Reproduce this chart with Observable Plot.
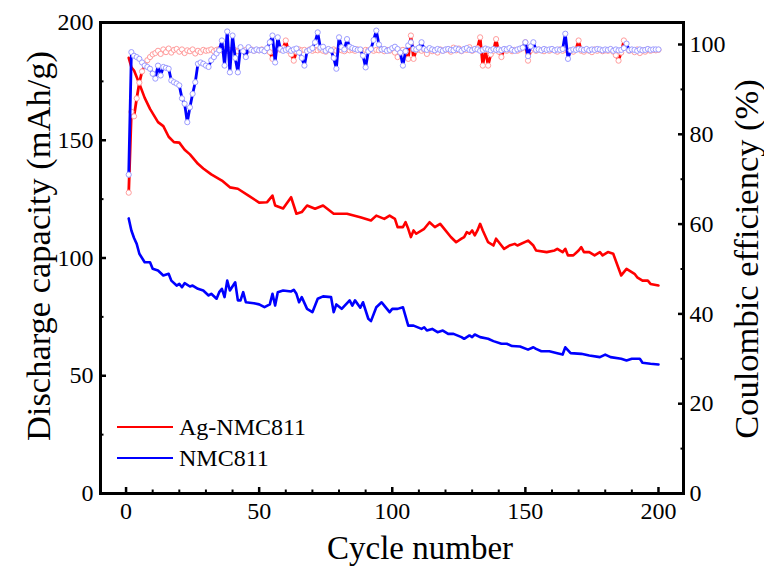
<!DOCTYPE html>
<html><head><meta charset="utf-8">
<script src="https://cdn.jsdelivr.net/npm/d3@7"></script>
<script src="https://cdn.jsdelivr.net/npm/@observablehq/plot@0.6"></script>
<style>
body{margin:0;background:#fff;}
#wrap{position:relative;width:764px;height:567px;font-family:"Liberation Serif","Times New Roman",serif;color:#000;}
.leg{position:absolute;left:117px;height:30px;display:flex;align-items:center;font-size:24px;white-space:nowrap;font-family:"Liberation Serif","Times New Roman",serif;}
.leg .sw{display:inline-block;width:56px;height:0;border-top:2.5px solid;margin-right:6px;}
</style></head><body><div id="wrap"></div>
<script>
// ---- data ----
const seriesNames = ["Ag-NMC811", "NMC811"];
const seriesColors = ["#ff0000", "#0000ff"];
const markerColors = ["#ff9c9c", "#9c9cff"];

// Discharge capacity (mAh/g) read at cycle numbers
const agCapCycles = [1,2,3,5,7,9,12,14,16,18,20,22,24,27,29,32,36,39,42,46,50,53,55,56,59,62,64,66,68,71,74,78,83,88,92,94,97,99,101,102,104,105,106,107,108,109,112,113,114,116,118,119,122,124,126,127,128,129,130,131,132,133,134,136,138,139,141,142,144,146,147,151,153,154,158,161,162,164,165,166,168,170,171,172,174,176,178,179,181,183,186,188,191,192,194,196,197,200];
const agCap = [185,181,179.6,174,168,163.3,157.7,156,151.5,149.2,149,146,144,140,138,135.5,132.9,130,129.4,126.5,123.5,123.7,126.5,122.3,121,125.8,118.8,119.5,122.3,120.9,122.3,118.8,118.8,117.3,115.9,118,116.6,118,116.6,113.1,113.1,115.2,112.4,108.9,111.7,110.3,112.4,113.8,115.2,113.1,114.5,113.1,108.9,106.7,108.2,108.9,111,110.3,111.7,109.6,111.7,114.5,111.7,106.7,105.3,108.2,105.3,103.9,105.3,106,105.3,107.4,105.3,103.2,102.5,103.2,103.9,102.5,103.9,101.1,101.1,103.2,104.6,102.5,102.5,101.1,102.5,101.1,102.5,101.8,92.6,95.4,93.3,91.8,90.4,90.4,89,88.3];

const nmcCapCycles = [1,2,3,4,5,7,9,10,12,14,16,17,19,20,21,22,24,25,27,29,31,32,34,35,36,37,38,39,41,42,43,44,45,48,50,52,54,55,56,57,59,62,63,64,65,66,68,70,72,74,77,78,79,81,84,85,86,88,89,91,92,94,96,97,99,100,102,104,106,108,111,112,113,115,117,119,121,123,126,127,129,130,131,133,136,138,141,143,145,148,151,153,154,156,159,162,164,165,167,171,174,178,180,182,186,188,190,193,194,197,200];
const nmcCap = [116.8,111.7,108.5,106,101.8,98.2,98.2,95.4,94.7,92.6,93.3,90.4,88.3,89,87.6,89.3,87.9,88.3,86.9,86.2,84.1,84.8,82.7,85.5,86.9,83.4,90.4,86.2,89.7,82,82,85.5,81.2,80.8,80.3,79.1,80.3,84.8,79.8,85.5,86.2,85.8,86.5,84.8,81.2,83.4,78.4,77,82.7,83.7,83.4,77,80.3,78.4,82,79.8,82,78.9,81.2,74.2,73.2,79.1,81.2,79.8,77,78.4,78.4,79.1,71.3,71.3,69.9,70.6,69.2,69.9,68.5,69.2,67.8,67.8,66.4,65.7,67.1,66.4,67.5,66.4,65.7,64.7,63.6,63.6,62.6,62.4,61.1,62.1,61.4,60.4,60.4,59.6,59,62.1,59.6,59.3,58.6,57.9,59,57.9,57.2,56.5,57.2,57.2,55.5,55.1,54.8];

// Coulombic efficiency (%) for cycles 1..200
const agCE = [
67,85,84,88,91.5,94,95.5,96.5,97.2,97.8,
98.1,98.6,97.9,98.9,98.3,99.1,98.2,98.8,99.0,98.4,
98.9,98.1,98.7,98.5,98.9,98.0,98.6,98.3,98.8,98.6,
98.7,98.9,98.5,98.8,99.0,98.7,98.9,98.6,98.8,98.9,
98.7,98.5,98.9,98.6,98.8,98.7,98.9,98.6,98.8,98.7,
98.9,98.6,98.8,98.3,96.8,98.5,99.0,98.8,99.2,100.9,
98.6,97.8,96.4,98.4,98.9,98.7,98.8,98.5,98.9,98.6,
98.8,98.7,98.9,98.6,98.4,98.8,98.7,98.9,98.6,98.8,
98.7,98.5,98.9,98.7,98.8,98.6,98.9,98.7,98.5,98.8,
98.7,98.9,98.6,98.8,98.7,98.9,98.5,98.8,98.6,98.9,
98.2,97.2,98.6,98.8,98.4,96.8,102.0,96.8,98.7,98.9,
98.6,98.8,97.9,98.9,98.5,98.7,98.2,98.9,98.6,98.8,
98.9,98.4,99.3,98.7,99.1,98.5,98.9,98.8,99.4,98.6,
98.9,99.2,101.6,95.3,98.8,95.3,97.8,98.6,101.2,98.4,
97.2,98.9,98.6,98.9,98.5,98.8,98.6,98.9,99.2,100.5,
96.4,98.7,99.1,98.6,98.9,98.7,98.5,98.8,98.6,98.9,
98.7,98.4,98.9,98.6,98.8,98.5,98.7,98.4,98.9,100.9,
98.6,98.4,98.8,98.6,98.3,98.9,98.6,98.8,98.5,98.7,
98.6,98.9,98.4,97.6,96.4,98.2,100.9,99.3,98.6,98.8,
98.3,98.9,98.1,98.7,98.4,98.9,98.6,98.8,98.7,98.8];

const nmcCE = [
71,98.3,97.5,97.2,96.8,96.0,95.3,95.0,94.6,93.5,
92.4,95.3,93.1,95.0,94.8,94.6,92.0,91.6,91.3,90.9,
88.0,86.8,82.7,86.0,89.0,91.6,95.7,96.0,95.7,95.3,
95.0,96.5,97.2,98.0,98.7,100.9,95.3,102.9,93.8,102.0,
97.0,93.8,99.4,98.5,97.2,99.4,98.8,98.6,98.9,98.7,
98.8,98.5,99.2,100.5,102.0,96.0,101.6,99.0,98.6,98.8,
99.0,98.6,98.9,99.1,98.2,97.0,95.3,98.5,98.8,99.2,
100.5,102.7,99.3,99.5,98.6,99.0,98.7,97.0,94.6,101.6,
99.4,98.9,101.2,99.5,99.2,99.0,98.8,98.9,97.5,94.9,
98.5,99.0,101.0,103.1,100.0,98.9,99.0,98.6,98.8,99.2,
99.5,99.0,98.2,95.3,98.5,99.8,100.5,99.0,98.9,99.3,
100.5,99.0,98.8,99.2,98.9,98.7,99.0,98.8,98.6,98.9,
99.0,98.8,98.7,99.1,98.9,98.6,99.0,99.2,98.8,98.7,
99.0,98.9,98.6,98.8,99.1,98.9,98.7,99.0,98.8,98.9,
98.7,99.0,98.9,99.2,98.8,98.6,98.9,99.1,99.3,100.5,
97.4,99.6,100.5,98.8,98.9,98.7,99.0,98.8,98.9,99.0,
98.7,98.9,98.8,99.0,102.4,96.8,98.7,98.9,98.8,99.0,
98.9,98.8,99.0,98.7,98.9,98.8,99.0,98.9,98.7,98.9,
98.8,99.0,98.6,98.9,98.7,98.8,99.2,100.2,98.7,98.9,
98.8,98.6,98.9,98.7,98.8,99.0,98.8,98.9,98.9,98.9];

// axis ticks
const xTicks = [0,50,100,150,200];
const xMinor = [10,20,30,40,60,70,80,90,110,120,130,140,160,170,180,190];
const yTicks = [0,50,100,150,200];
const yMinor = [25,75,125,175];
const ceTicks = [0,20,40,60,80,100];
const ceMinor = [10,30,50,70,90];
const capMax = 200, ceMax = 104.9;

// ---- build ----
const K = capMax / ceMax;
const agCapData = agCapCycles.map((c, i) => ({cycle: c, v: agCap[i]}));
const nmcCapData = nmcCapCycles.map((c, i) => ({cycle: c, v: nmcCap[i]}));
const agCEData = agCE.map((v, i) => ({cycle: i + 1, y: v * K}));
const nmcCEData = nmcCE.map((v, i) => ({cycle: i + 1, y: v * K}));

const font = "'Liberation Serif', 'Times New Roman', serif";
const chart = Plot.plot({
  width: 764, height: 567,
  marginLeft: 100, marginRight: 81, marginTop: 22, marginBottom: 74,
  style: {fontFamily: font, fontSize: "23px", color: "#000", background: "#fff", overflow: "visible"},
  x: {domain: [-9.6, 209.4]},
  y: {domain: [0, capMax]},
  marks: [
    Plot.line(agCapData, {x: "cycle", y: "v", stroke: seriesColors[0], strokeWidth: 2.6}),
    Plot.line(nmcCapData, {x: "cycle", y: "v", stroke: seriesColors[1], strokeWidth: 2.6}),
    Plot.line(agCEData, {x: "cycle", y: "y", stroke: seriesColors[0], strokeWidth: 2.8}),
    Plot.dot(agCEData, {x: "cycle", y: "y", r: 2.6, fill: "white", stroke: markerColors[0], strokeWidth: 1}),
    Plot.line(nmcCEData, {x: "cycle", y: "y", stroke: seriesColors[1], strokeWidth: 2.8}),
    Plot.dot(nmcCEData, {x: "cycle", y: "y", r: 2.6, fill: "white", stroke: markerColors[1], strokeWidth: 1}),
    Plot.frame({stroke: "#000", strokeWidth: 3}),
    // x axis
    Plot.axisX(xTicks, {anchor: "bottom", tickSize: 0, tickPadding: 8, fontSize: 24, fontFamily: font, label: null}),
    Plot.axisX(xTicks, {anchor: "bottom", tickSize: -6, strokeWidth: 2.5, fill: "none", label: null}),
    Plot.axisX(xMinor, {anchor: "bottom", tickSize: -3.5, strokeWidth: 2, fill: "none", label: null}),
    // left axis
    Plot.axisY(yTicks, {anchor: "left", tickSize: 0, tickPadding: 7, fontSize: 24, fontFamily: font, label: null}),
    Plot.axisY(yTicks, {anchor: "left", tickSize: -6, strokeWidth: 2.5, fill: "none", label: null}),
    Plot.axisY(yMinor, {anchor: "left", tickSize: -3.5, strokeWidth: 2, fill: "none", label: null}),
    // right axis (coulombic efficiency)
    Plot.axisY(ceTicks.map(v => v * K), {anchor: "right", tickSize: 0, tickPadding: 6, fontSize: 24, fontFamily: font, label: null, tickFormat: d => String(Math.round(d / K))}),
    Plot.axisY(ceTicks.map(v => v * K), {anchor: "right", tickSize: -6, strokeWidth: 2.5, fill: "none", label: null}),
    Plot.axisY(ceMinor.map(v => v * K), {anchor: "right", tickSize: -3.5, strokeWidth: 2, fill: "none", label: null}),
    // axis titles
    Plot.text(["Discharge capacity (mAh/g)"], {frameAnchor: "left", textAnchor: "middle", lineAnchor: "middle", rotate: -90, dx: -62, dy: -12, fontSize: 34.5, fontFamily: font}),
    Plot.text(["Coulombic efficiency (%)"], {frameAnchor: "right", textAnchor: "middle", lineAnchor: "middle", rotate: -90, dx: 63, dy: 1, fontSize: 34.5, fontFamily: font}),
    Plot.text(["Cycle number"], {frameAnchor: "bottom", textAnchor: "middle", lineAnchor: "middle", dx: 28, dy: 55, fontSize: 33, fontFamily: font})
  ]
});

const wrap = document.getElementById("wrap");
wrap.appendChild(chart);
const legTops = [412, 443];
seriesNames.forEach((name, i) => {
  const row = document.createElement("div");
  row.className = "leg";
  row.style.top = legTops[i] + "px";
  const sw = document.createElement("span");
  sw.className = "sw";
  sw.style.borderTopColor = seriesColors[i];
  row.appendChild(sw);
  const t = document.createElement("span");
  t.textContent = name;
  row.appendChild(t);
  wrap.appendChild(row);
});
</script>
</body></html>
